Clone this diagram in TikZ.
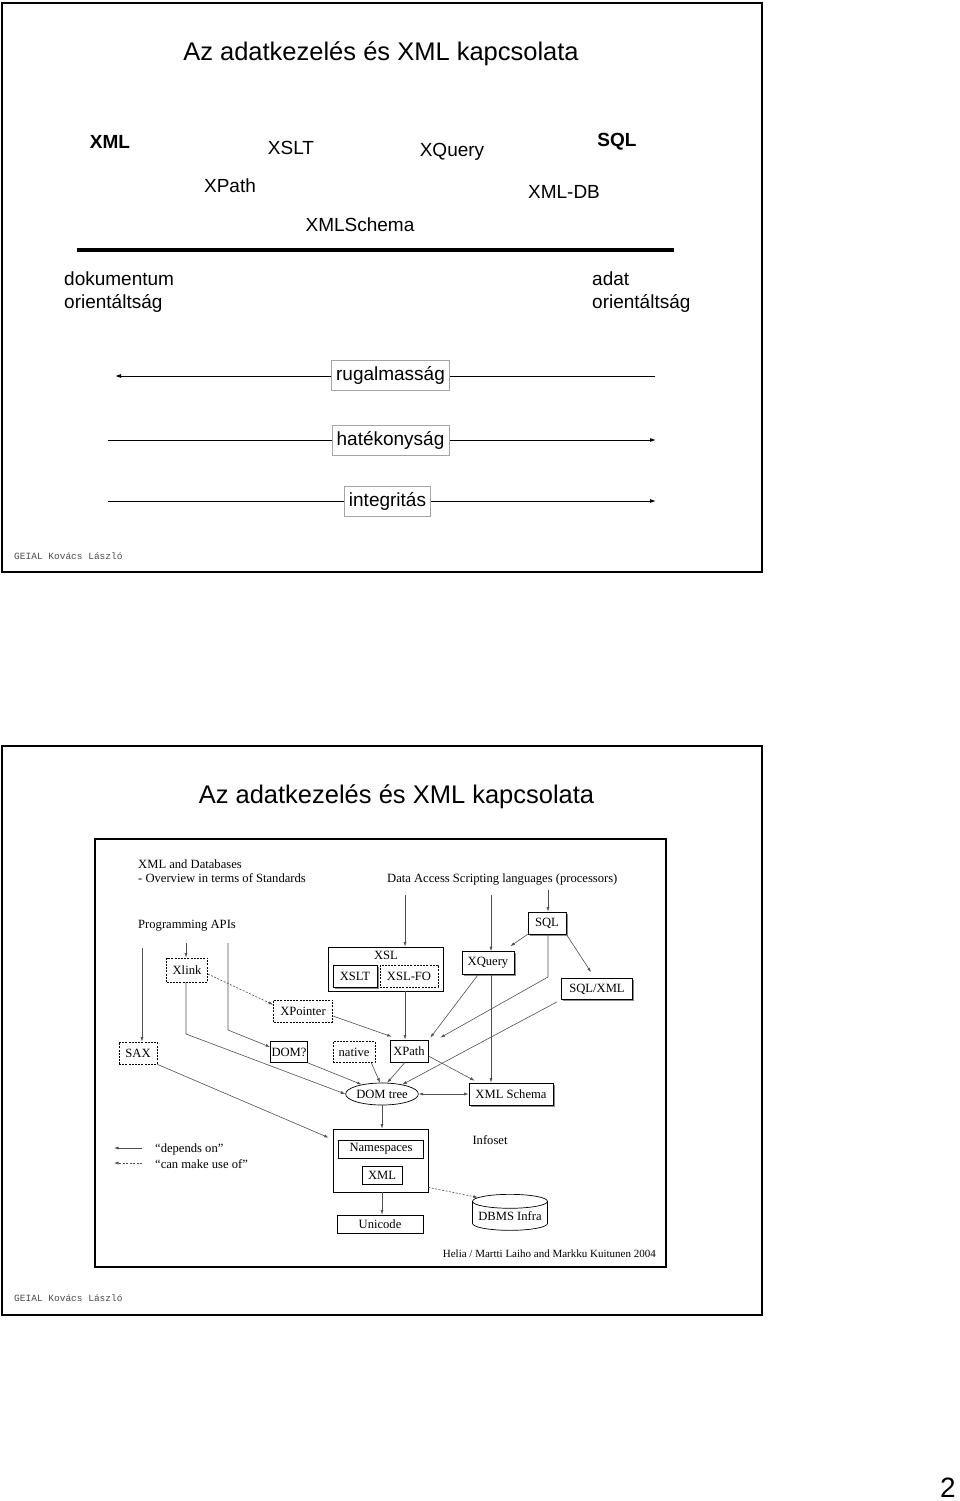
\documentclass[tikz,border=0pt]{standalone}
\usepackage{fontspec}
\setmainfont{Liberation Sans}
\newfontfamily\diagserif{Liberation Serif}
\newfontfamily\monofam{Liberation Mono}
\usetikzlibrary{arrows.meta,shapes.geometric,shadows}
\definecolor{ln}{HTML}{505050}
\begin{document}
\begin{tikzpicture}[x=1pt,y=-1pt,
  lbl/.style={font=\fontsize{19}{22}\selectfont, inner sep=0pt, text=black},
  blbl/.style={lbl, font=\fontsize{19}{22}\selectfont\bfseries},
  ttl/.style={font=\fontsize{25.5}{30}\selectfont, inner sep=0pt},
  foot/.style={font=\monofam\fontsize{9.5}{11}\selectfont, text=black!70, inner sep=0pt, anchor=west},
  frame/.style={line width=2pt},
  arrbox/.style={draw=black!35, line width=0.6pt, fill=white, font=\fontsize{19}{22}\selectfont, minimum height=30pt, inner xsep=4.5pt},
  toparr/.style={line width=0.9pt, -{Latex[length=6pt,width=4pt]}},
  dg/.style={font=\diagserif\fontsize{12.6}{14.5}\selectfont, inner sep=0pt},
  sbox/.style={dg, draw=black, line width=0.7pt, fill=white},
  shbox/.style={sbox, drop shadow={shadow xshift=1.6pt, shadow yshift=-1.6pt, fill=black!45, opacity=1}},
  dbox/.style={sbox, dash pattern=on 2pt off 1.2pt},
  con/.style={draw=ln, line width=0.6pt, -{Latex[length=4.5pt,width=3pt]}},
  dcon/.style={con, dash pattern=on 2pt off 1.5pt}
]
\useasboundingbox (0,0) rectangle (960,1501);
\fill[white] (0,0) rectangle (960,1501);

% ================= slide 1 =================
\draw[frame] (2,3) rectangle (762,572);
\node[ttl] (t1) at (381,54) {Az adatkezelés és XML kapcsolata};
\node[blbl] (xml) at (110,142) {XML};
\node[lbl] (xslt) at (291,148) {XSLT};
\node[lbl] (xquery) at (452,152) {XQuery};
\node[blbl] (sql) at (617,142) {SQL};
\node[lbl] (xpath) at (230,186) {XPath};
\node[lbl] (xmldb) at (564,192) {XML-DB};
\node[lbl] (xmlschema) at (360,225) {XMLSchema};
\coordinate (bl) at (77,250);
\coordinate (br) at (674,250);
\draw[line width=4pt] (bl) -- (br);
\node[lbl, anchor=north west, align=left, font=\fontsize{19}{22.5}\selectfont] (dok) at (64,272) {dokumentum\\orientáltság};
\node[lbl, anchor=north west, align=left, font=\fontsize{19}{22.5}\selectfont] (adat) at (592,272) {adat\\orientáltság};

\coordinate (r1) at (655,376); \coordinate (r2) at (115,376);
\coordinate (h1) at (108,440); \coordinate (h2) at (656,440);
\coordinate (i1) at (108,501); \coordinate (i2) at (656,501);
\draw[toparr] (r1) -- (r2);
\draw[toparr] (h1) -- (h2);
\draw[toparr] (i1) -- (i2);
\node[arrbox] (rug) at (390.5,375) {rugalmasság};
\node[arrbox] (hat) at (390.5,440) {hatékonyság};
\node[arrbox] (integ) at (387.5,501) {integritás};
\node[foot] (f1) at (14,556) {GEIAL Kovács László};

% ================= slide 2 =================
\draw[frame] (2,746) rectangle (762,1315);
\node[ttl] (t2) at (396.5,797) {Az adatkezelés és XML kapcsolata};
\draw[line width=2.6pt] (95,839) rectangle (666,1267);
\node[foot] (f2) at (14,1298) {GEIAL Kovács László};

% header texts
\node[dg, anchor=west, align=left] (hdr) at (138,871) {XML and Databases\\- Overview in terms of Standards};
\node[dg, anchor=west] (papi) at (138,926) {Programming APIs};
\node[dg, anchor=west] (dasl) at (387,879) {Data Access Scripting languages (processors)};

% boxes
\node[dbox, minimum width=41pt, minimum height=24pt] (xlink) at (187,970) {Xlink};
\node[dbox, minimum width=59pt, minimum height=22pt] (xpointer) at (303,1011) {XPointer};
\node[dbox, minimum width=38pt, minimum height=22pt] (sax) at (138,1053) {SAX};
\node[sbox, minimum width=37pt, minimum height=21pt] (domq) at (289,1052) {DOM?};
\node[dbox, minimum width=42pt, minimum height=21pt] (native) at (354,1052) {native};
\node[sbox, minimum width=38pt, minimum height=22pt] (dxpath) at (409,1051) {XPath};
\node[sbox, ellipse, minimum width=68pt, minimum height=22pt, inner xsep=0pt] (domtree) at (382,1094) {DOM tree};
\node[sbox, minimum width=115pt, minimum height=44pt] (xsl) at (385.5,969) {};
\node[dg] (xsllbl) at (386,955) {XSL};
\node[shbox, minimum width=44pt, minimum height=22pt] (dxslt) at (355,976) {XSLT};
\node[dbox, minimum width=58pt, minimum height=22pt] (xslfo) at (409,976) {XSL-FO};
\node[shbox, minimum width=52pt, minimum height=23pt] (dxquery) at (488,963) {XQuery};
\node[shbox, minimum width=38pt, minimum height=22pt] (dsql) at (547,923) {SQL};
\node[shbox, minimum width=71pt, minimum height=21pt] (sqlxml) at (597,989) {SQL/XML};
\node[shbox, minimum width=84pt, minimum height=22pt] (dschema) at (511,1094) {XML Schema};
\node[sbox, minimum width=95pt, minimum height=63pt] (nsouter) at (380.5,1160.5) {};
\node[sbox, minimum width=85pt, minimum height=18pt] (ns) at (381,1149) {Namespaces};
\node[sbox, minimum width=40pt, minimum height=18pt] (dxml) at (382,1175) {XML};
\node[sbox, minimum width=86pt, minimum height=18pt] (uni) at (380,1224) {Unicode};
\node[sbox, cylinder, shape border rotate=90, aspect=0.22, minimum width=75pt, minimum height=36pt] (dbms) at (510,1216) {DBMS Infra};
\node[dg] (infoset) at (490,1140) {Infoset};
\node[dg, anchor=east, font=\diagserif\fontsize{11}{13}\selectfont] (credit) at (656,1254) {Helia / Martti Laiho and Markku Kuitunen 2004};

% free ends
\coordinate (c1) at (142,948);
\coordinate (c2) at (186,943);
\coordinate (c3) at (228,943);
\coordinate (c3b) at (228,1030);
\coordinate (c4) at (405,895);
\coordinate (c5) at (491,895);
\coordinate (c6) at (548,890);
\coordinate (xlb) at (186,1034);
\coordinate (sqlb) at (548,977);

% connectors
\draw[con] (c1) -- (c1 |- sax.north);
\draw[con] (c2) -- (c2 |- xlink.north);
\draw[con] (c3) -- (c3b) -- ([yshift=5pt]domq.west);
\draw[con] (xlink.south -| xlb) -- (xlb) -- (domtree.west);
\draw[dcon] ([yshift=-4pt]xlink.east) -- ([yshift=-5pt]xpointer.north west);
\draw[con] ([yshift=-5pt]xpointer.east) -- ([xshift=2pt,yshift=3pt]dxpath.north west);
\draw[con] (sax.south east) -- ([xshift=-4pt,yshift=-9pt]nsouter.north west);
\draw[con] (domq.south east) -- (domtree.155);
\draw[con] ([xshift=-4pt]native.south east) -- (domtree.100);
\draw[con] ([xshift=-4pt]dxpath.south) -- (domtree.65);
\draw[con] (c4) -- (c4 |- xsl.north);
\draw[con] (c4 |- xsl.south) -- (c4 |- dxpath.north);
\draw[con] (c5) -- (c5 |- dxquery.north);
\draw[con] (c5 |- dxquery.south) -- (c5 |- dschema.north);
\draw[con] (c6) -- (c6 |- dsql.north);
\draw[con] (dsql.south west) -- ([xshift=-4pt,yshift=5pt]dxquery.north east);
\draw[con] (dsql.south east) -- ([xshift=-6pt,yshift=6pt]sqlxml.north);
\draw[con] (sqlb |- dsql.south) -- (sqlb) -- ([xshift=12pt,yshift=2pt]dxpath.north east);
\draw[con] ([xshift=-10pt]dxquery.south) -- ([xshift=2pt,yshift=2pt]dxpath.north east);
\draw[con] ([xshift=-40pt,yshift=-2pt]sqlxml.south) -- (domtree.25);
\draw[con] ([yshift=-5pt]dxpath.east) -- ([xshift=6pt,yshift=2pt]dschema.north west);
\draw[con, {Latex[length=4.5pt,width=3pt]}-{Latex[length=4.5pt,width=3pt]}] (domtree.east) -- (dschema.west);
\draw[con] (domtree.south) -- (domtree.south |- nsouter.north);
\draw[con] (domtree.south |- nsouter.south) -- (domtree.south |- uni.north);
\draw[dcon] ([yshift=5pt]nsouter.south east) -- (dbms.150);

% legend
\coordinate (lg1) at (142,1148); \coordinate (lg2) at (114,1148);
\coordinate (lg3) at (142,1163); \coordinate (lg4) at (114,1163);
\draw[con] (lg1) -- (lg2);
\draw[dcon] (lg3) -- (lg4);
\node[dg, anchor=west] (dep) at (155,1149) {“depends on”};
\node[dg, anchor=west] (can) at (155,1164) {“can make use of”};

% page number
\node[font=\fontsize{28}{30}\selectfont, inner sep=0pt] (pg) at (948,1488) {2};
\end{tikzpicture}
\end{document}
